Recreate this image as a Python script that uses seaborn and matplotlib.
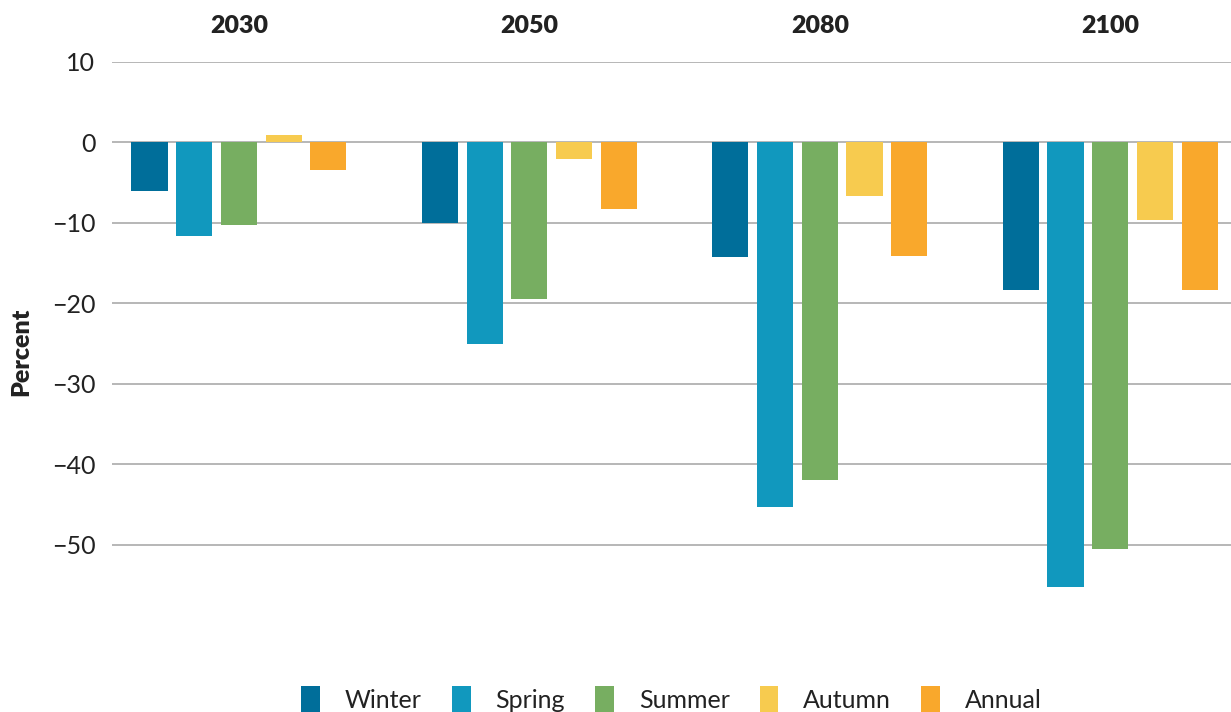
import pandas as pd
import seaborn as sns
import matplotlib.pyplot as plt

years = ["2030", "2050", "2080", "2100"]
seasons = ["Winter", "Spring", "Summer", "Autumn", "Annual"]
winter = [-6.0, -10.0, -14.2, -18.3]
spring = [-11.6, -25.1, -45.3, -55.2]
summer = [-10.3, -19.5, -41.9, -50.5]
autumn = [0.9, -2.1, -6.7, -9.6]
annual = [-3.4, -8.3, -14.1, -18.3]
colors = ["#006E9A", "#1198BE", "#77AE61", "#F7CB4F", "#F9A82C"]

rows = []
for s, vals in zip(seasons, [winter, spring, summer, autumn, annual]):
    for y, v in zip(years, vals):
        rows.append({"year": y, "season": s, "value": v})
df = pd.DataFrame(rows)

sns.set_style("white")
plt.rcParams["font.family"] = ["Lato", "DejaVu Sans"]

fig = plt.figure(figsize=(12.31, 7.12), dpi=100)
ax = fig.add_axes([0.091, 0.099, 0.909, 0.814])

sns.barplot(data=df, x="year", y="value", hue="season", order=years,
            hue_order=seasons, palette=colors, width=0.77, gap=0.19,
            saturation=1, linewidth=0, ax=ax, zorder=3)

ax.set_ylim(-62, 10)
ax.set_xlim(-0.437, 3.416)
ax.set_yticks([10, 0, -10, -20, -30, -40, -50])
ax.yaxis.grid(True, color="#aaaaaa", linewidth=1.2, zorder=0)
ax.set_axisbelow(True)
for sp in ax.spines.values():
    sp.set_visible(False)

ax.tick_params(axis="y", length=0, pad=12, labelsize=18, labelcolor="#222222")
ax.xaxis.tick_top()
ax.tick_params(axis="x", length=0, pad=18, labelsize=18, labelcolor="#222222")
for lbl in ax.get_xticklabels():
    lbl.set_fontweight("heavy")
ax.set_xlabel("")
ax.set_ylabel("Percent", fontsize=18, fontweight="heavy", color="#222222", labelpad=14)

ax.legend(loc="center", bbox_to_anchor=(0.5, -0.1), ncol=5, frameon=False,
          fontsize=18, handlelength=0.75, handleheight=1.3, columnspacing=1.2,
          handletextpad=1.0, labelcolor="#222222")

fig.savefig("out.png", dpi=100)
